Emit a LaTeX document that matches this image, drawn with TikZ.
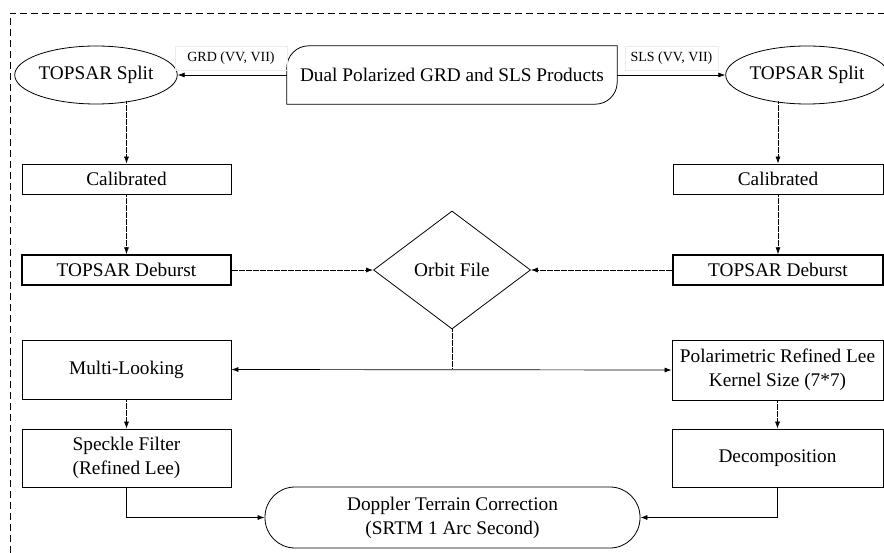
\documentclass[tikz,border=0pt]{standalone}
\usepackage{fontspec}
\setmainfont{Liberation Serif}
\usetikzlibrary{shapes.geometric,arrows.meta}
\begin{document}
\begin{tikzpicture}[x=1pt,y=-1pt,
  box/.style={draw,line width=0.8pt,rectangle,inner sep=0pt,font=\fontsize{19.3}{24}\selectfont,align=center},
  thickbox/.style={box,line width=1.4pt},
  oval/.style={draw,line width=0.8pt,ellipse,inner sep=0pt,font=\fontsize{19.3}{24}\selectfont},
  lbl/.style={draw=black!7,line width=0.5pt,inner sep=0pt,font=\fontsize{14}{16}\selectfont},
  conn/.style={line width=0.7pt,dash pattern=on 3pt off 0.5pt,-{Latex[length=7pt,width=5pt]}},
  sconn/.style={line width=0.7pt,-{Latex[length=7pt,width=5pt]}},
  border/.style={line width=0.8pt,dash pattern=on 7pt off 4pt}]
\useasboundingbox (0,0) rectangle (884,553);
% frame
\coordinate (bl) at (10,553);
\coordinate (tl) at (10,13);
\coordinate (tr) at (884,13);
\draw[border] (bl) -- (tl) -- (tr);
% top row
\node[inner sep=0pt,minimum width=330pt,minimum height=58pt,font=\fontsize{19.3}{24}\selectfont] (src) at (452,75) {Dual Polarized GRD and SLS Products};
\draw[line width=0.8pt] (src.south west) -- ([yshift=-22pt]src.north west) arc[start angle=180,end angle=90,radius=22pt] -- (src.north east) -- ([yshift=22pt]src.south east) arc[start angle=0,end angle=-90,radius=22pt] -- cycle;
\node[oval,minimum width=148pt,minimum height=58pt] (lsplit) at (96,75) {TOPSAR Split};
\node[oval,minimum width=150pt,minimum height=58pt] (rsplit) at (807,75) {TOPSAR Split};
\node[lbl,minimum width=112pt,minimum height=24pt] (glabel) at (231,58) {GRD (VV, VII)};
\node[lbl,minimum width=93pt,minimum height=24pt] (slabel) at (671.5,58) {SLS (VV, VII)};
\draw[sconn] (src.west) -- (lsplit.east);
\draw[sconn] (src.east) -- (rsplit.west);
% calibrated
\node[box,minimum width=209pt,minimum height=30pt] (lcal) at (126.5,179) {Calibrated};
\node[box,minimum width=210pt,minimum height=30pt] (rcal) at (778,179) {Calibrated};
\draw[conn] ([yshift=3pt]lsplit.south -| lcal.north) -- (lcal.north);
\draw[conn] ([yshift=3pt]rsplit.south -| rcal.north) -- (rcal.north);
% deburst
\node[thickbox,minimum width=209pt,minimum height=30pt] (ldeb) at (126.5,270) {TOPSAR Deburst};
\node[thickbox,minimum width=210pt,minimum height=30pt] (rdeb) at (778,270) {TOPSAR Deburst};
\draw[conn] (lcal.south) -- (ldeb.north);
\draw[conn] (rcal.south) -- (rdeb.north);
% orbit
\node[draw,line width=0.8pt,diamond,inner sep=0pt,minimum width=157pt,minimum height=118pt,font=\fontsize{19.3}{24}\selectfont] (orbit) at (452,270) {Orbit File};
\draw[conn] (ldeb.east) -- (orbit.west);
\draw[conn] (rdeb.west) -- (orbit.east);
% multi-look / polarimetric
\node[box,minimum width=209pt,minimum height=59pt] (ml) at (126.5,369.5) {Multi-Looking};
\node[box,minimum width=211pt,minimum height=60pt] (pol) at (777.5,370) {Polarimetric Refined Lee\\Kernel Size (7*7)};
\coordinate (jn) at (orbit.south |- ml.east);
\draw[line width=0.7pt,dash pattern=on 3pt off 0.5pt] (orbit.south) -- (jn);
\draw[line width=0.7pt,{Latex[length=7pt,width=5pt]}-{Latex[length=7pt,width=5pt]}] (ml.east) -- (pol.west);
% speckle / decomposition
\node[box,minimum width=209pt,minimum height=58pt] (speck) at (126.5,458) {Speckle Filter\\(Refined Lee)};
\node[box,minimum width=211pt,minimum height=58pt] (dec) at (777.5,458) {Decomposition};
\draw[conn] (ml.south) -- (speck.north);
\draw[conn] (pol.south) -- (dec.north);
% doppler
\node[box,rounded corners=30pt,minimum width=375pt,minimum height=61pt] (dop) at (452.5,517.5) {Doppler Terrain Correction\\(SRTM 1 Arc Second)};
\draw[sconn] (speck.south) |- (dop.west);
\draw[sconn] (dec.south) |- (dop.east);
\end{tikzpicture}
\end{document}
